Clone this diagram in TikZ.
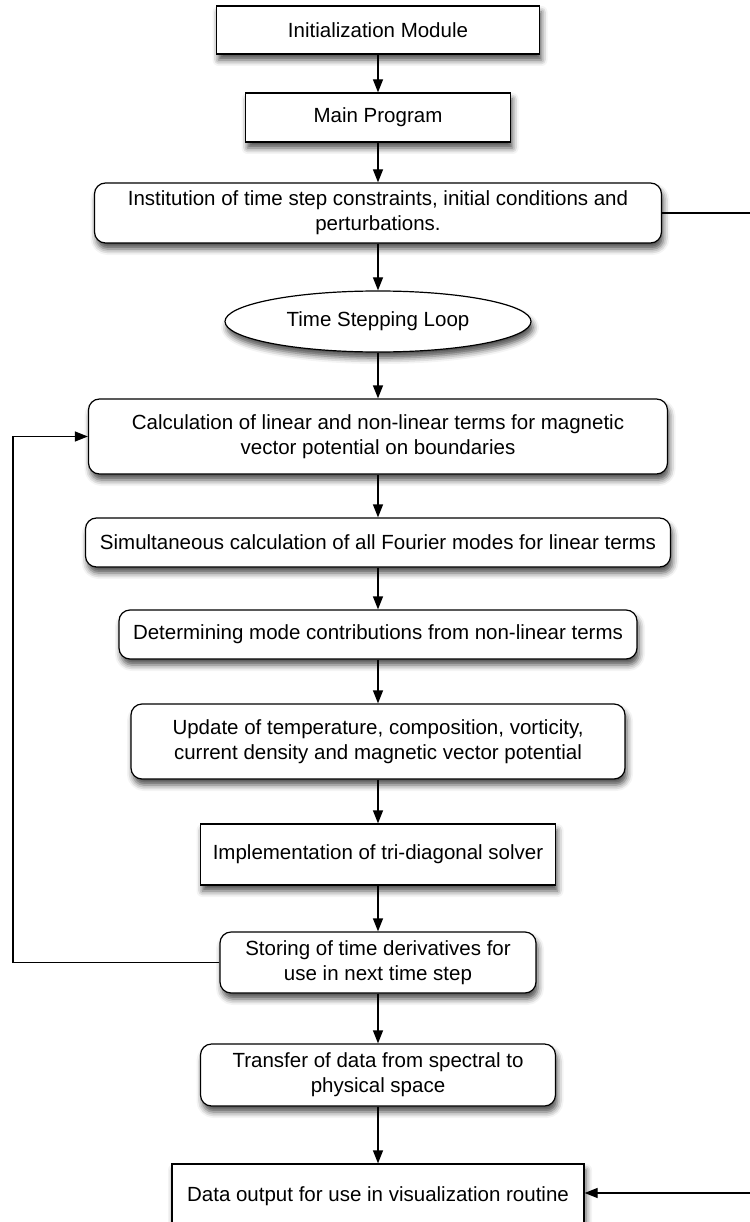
\documentclass[tikz,border=0pt]{standalone}
\usepackage{fontspec}
\setmainfont{Liberation Sans}
\usetikzlibrary{arrows.meta,shapes,positioning,shadows.blur}

\begin{document}
\begin{tikzpicture}[x=1pt,y=-1pt,line width=1.2pt,> = {Triangle[width=10pt,length=13pt]},
  every node/.style={font=\fontsize{20.5}{25}\selectfont,align=center},
  sq/.style={draw,fill=white,rectangle,inner sep=2pt,blur shadow={shadow xshift=2pt,shadow yshift=-6pt,shadow blur radius=6pt,shadow opacity=70}},
  rnd/.style={sq,rounded corners=11pt},
  oval/.style={sq,ellipse}]%flow of the simulation code
\useasboundingbox (0,0) rectangle (749,1222);
%set-up
\node[sq,minimum width=323,minimum height=48] (init) at (378,30) {Initialization Module};
\node[sq,minimum width=265,minimum height=49] (main) at (378,117.5) {Main Program};
\node[rnd,minimum width=567,minimum height=60] (inst) at (378,213) {Institution of time step constraints, initial conditions and\\perturbations.};
\node[oval,minimum width=306,minimum height=61] (loop) at (378,321.5) {Time Stepping Loop};
%one time step
\node[rnd,minimum width=579,minimum height=75] (calc) at (378,436.5) {Calculation of linear and non-linear terms for magnetic\\vector potential on boundaries};
\node[rnd,minimum width=585,minimum height=49] (modes) at (378,542.5) {Simultaneous calculation of all Fourier modes for linear terms};
\node[rnd,minimum width=518,minimum height=49] (nonlin) at (378,634.5) {Determining mode contributions from non-linear terms};
\node[rnd,minimum width=494,minimum height=75] (upd) at (378,741.5) {Update of temperature, composition, vorticity,\\current density and magnetic vector potential};
\node[sq,minimum width=355,minimum height=61] (tri) at (378,854.5) {Implementation of tri-diagonal solver};
\node[rnd,minimum width=316,minimum height=61] (store) at (378,962.5) {Storing of time derivatives for\\use in next time step};
%output
\node[rnd,minimum width=355,minimum height=62] (trans) at (378,1075) {Transfer of data from spectral to\\physical space};
\node[sq,minimum width=412,minimum height=64] (out) at (378,1196) {\raisebox{3pt}{Data output for use in visualization routine}};
%arrows down the column
\draw[->] (init) -- (main); \draw[->] (main) -- (inst); \draw[->] (inst) -- (loop);
\draw[->] (loop) -- (calc); \draw[->] (calc) -- (modes); \draw[->] (modes) -- (nonlin);
\draw[->] (nonlin) -- (upd); \draw[->] (upd) -- (tri); \draw[->] (tri) -- (store);
\draw[->] (store) -- (trans); \draw[->] (trans) -- (out);
%back to the start of the loop
\draw[->] (store.west) -- (13,962.5) |- (calc.west);
%right hand line to the output
\coordinate (rt) at (753,1193);
\draw[->] (inst.east) -- (753,213) -- (rt) -- (out.east |- rt);
\end{tikzpicture}
\end{document}
